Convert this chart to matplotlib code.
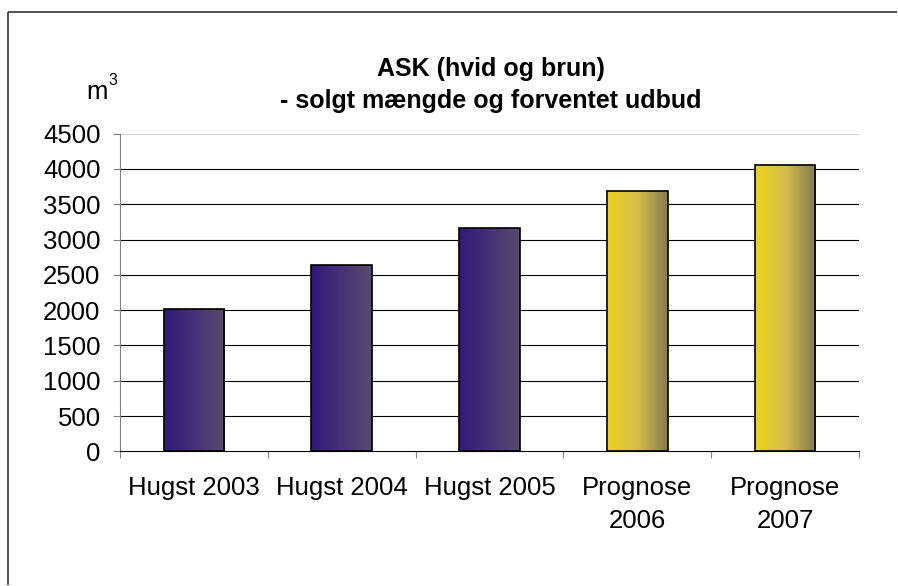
"""ASK (hvid og brun) - solgt mængde og forventet udbud."""

import matplotlib

matplotlib.use("Agg")
import matplotlib.pyplot as plt
import numpy as np
from matplotlib.colors import LinearSegmentedColormap
from matplotlib.lines import Line2D
from matplotlib.patches import Rectangle

categories = ["Hugst 2003", "Hugst 2004", "Hugst 2005", "Prognose\n2006", "Prognose\n2007"]
values = [2015, 2640, 3160, 3680, 4050]
kinds = ["sold", "sold", "sold", "forecast", "forecast"]
y_ticks = list(range(0, 4501, 500))

title = "ASK (hvid og brun)\n- solgt mængde og forventet udbud"

gradients = {
    "sold": LinearSegmentedColormap.from_list("sold", ["#34187a", "#473176", "#574c6c"]),
    "forecast": LinearSegmentedColormap.from_list("fc", ["#ebd21c", "#d6bd4c", "#857a55"]),
}

plt.rcParams["font.family"] = ["Liberation Sans", "DejaVu Sans"]

W, H = 898, 586
fig = plt.figure(figsize=(W / 100, H / 100), dpi=100)
fig.patch.set_linewidth(0)

# outer chart frame: only the top and left edges fall inside the picture
fx, fy = 8 / W, 1 - 12 / H
fig.add_artist(Line2D([fx, 0.999], [fy, fy], transform=fig.transFigure,
                      color="#333333", linewidth=1.2, solid_capstyle="butt"))
fig.add_artist(Line2D([fx, fx], [0.001, fy], transform=fig.transFigure,
                      color="#333333", linewidth=1.2, solid_capstyle="butt"))

ax = fig.add_axes([120 / W, 1 - 451.3 / H, 739 / W, 317.7 / H])

for y in y_ticks[1:]:
    color = "#d8d8d8" if y == y_ticks[-1] else "black"
    ax.axhline(y, color=color, linewidth=0.8, zorder=1)

width = 0.41
ramp = np.linspace(0, 1, 256).reshape(1, -1)
for i, (v, kind) in enumerate(zip(values, kinds)):
    x0 = i - width / 2
    rect = Rectangle((x0, 0), width, v, facecolor="none", edgecolor="black",
                     linewidth=1.2, zorder=4)
    ax.add_patch(rect)
    im = ax.imshow(ramp, cmap=gradients[kind], aspect="auto",
                   extent=(x0, x0 + width, 0, v), zorder=3, interpolation="bilinear")
    im.set_clip_path(rect)

ax.set_xlim(-0.5, len(categories) - 0.5)
ax.set_ylim(0, 4500)

for side in ("top", "right"):
    ax.spines[side].set_visible(False)
ax.spines["left"].set_color("#808080")
ax.spines["bottom"].set_color("black")
ax.spines["bottom"].set_zorder(5)

ax.set_yticks(y_ticks)
ax.tick_params(axis="y", length=5, width=0.8, color="#808080", pad=9, labelsize=18.5)

ax.set_xticks(range(len(categories)))
ax.set_xticklabels(categories, linespacing=1.45)
ax.set_xticks(np.arange(-0.5, len(categories)), minor=True)
ax.tick_params(axis="x", which="major", length=0, pad=18, labelsize=18.5)
ax.tick_params(axis="x", which="minor", length=5, width=0.8, color="#808080")

fig.text(491 / W, 1 - 85 / H, title, ha="center", va="center", fontsize=18,
         fontweight="bold", linespacing=1.4)
fig.text(108 / W, 1 - 99 / H, "m", ha="right", va="baseline", fontsize=18.5)
fig.text(108 / W, 1 - 85 / H, "3", ha="left", va="baseline", fontsize=11.5)

fig.savefig("out.png", dpi=100)
